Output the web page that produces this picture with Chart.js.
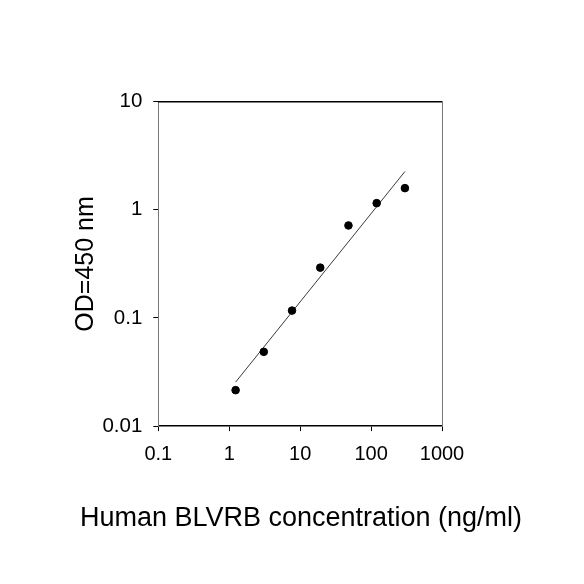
<!DOCTYPE html>
<html>
<head>
<meta charset="utf-8">
<script src="https://cdn.jsdelivr.net/npm/chart.js@4"></script>
<style>
  html, body { margin: 0; padding: 0; background: #ffffff; }
  #wrap { width: 584px; height: 584px; }
</style>
</head>
<body>
<div id="wrap"><canvas id="c" width="584" height="584"></canvas></div>
<script>
// Data
const concentrations = [1.23, 3.07, 7.68, 19.2, 48, 120, 300];
const odValues = [0.0215, 0.0486, 0.117, 0.292, 0.717, 1.153, 1.587];
const trendX = [1.23, 300];
const trendY = [0.0255, 2.26];
const xTickValues = [0.1, 1, 10, 100, 1000];
const yTickValues = [0.01, 0.1, 1, 10];
const xTitle = 'Human BLVRB concentration (ng/ml)';
const yTitle = 'OD=450 nm';

const FONT = "'Liberation Sans', Arial, sans-serif";

const pointData = concentrations.map((x, i) => ({ x: x, y: odValues[i] }));
const trendData = trendX.map((x, i) => ({ x: x, y: trendY[i] }));

function fixTicks(values) {
  return function (scale) {
    scale.ticks = values.map(v => ({ value: v }));
  };
}
function fmt(v) { return String(v); }

new Chart(document.getElementById('c'), {
  type: 'scatter',
  data: {
    datasets: [
      {
        label: 'fit',
        type: 'line',
        data: trendData,
        borderColor: '#3a3a3a',
        borderWidth: 1,
        pointRadius: 0,
        fill: false,
        tension: 0,
        order: 2
      },
      {
        label: 'OD',
        data: pointData,
        backgroundColor: '#000000',
        borderColor: '#000000',
        pointRadius: 3.8,
        pointHoverRadius: 3.8,
        order: 1
      }
    ]
  },
  options: {
    responsive: false,
    animation: false,
    events: [],
    layout: { padding: { left: 18, right: 0, top: 101.7, bottom: 0 } },
    plugins: {
      legend: { display: false },
      tooltip: { enabled: false },
      title: {
        display: true,
        position: 'bottom',
        text: xTitle,
        color: '#000000',
        font: { family: FONT, size: 27, weight: 'normal' },
        padding: { top: 0, bottom: 49 }
      }
    },
    scales: {
      x: {
        type: 'logarithmic',
        position: 'bottom',
        min: 0.1,
        max: 1000,
        afterBuildTicks: fixTicks(xTickValues),
        afterFit: function (s) { s.height = 76.5; },
        grid: { drawOnChartArea: false, drawTicks: true, tickLength: 5, color: '#000000', lineWidth: 1 },
        border: { display: true, color: '#000000', width: 1.5 },
        ticks: {
          callback: fmt,
          color: '#000000',
          font: { family: FONT, size: 20 },
          padding: 11,
          maxRotation: 0,
          autoSkip: false
        }
      },
      y: {
        type: 'logarithmic',
        position: 'left',
        min: 0.01,
        max: 10,
        afterBuildTicks: fixTicks(yTickValues),
        afterFit: function (s) { s.width = 140.3; },
        grid: { drawOnChartArea: false, drawTicks: true, tickLength: 5, color: '#000000', lineWidth: 1 },
        border: { display: true, color: '#777777', width: 1 },
        ticks: {
          callback: fmt,
          color: '#000000',
          font: { family: FONT, size: 20.5 },
          padding: 11,
          autoSkip: false
        },
        title: {
          display: true,
          text: yTitle,
          color: '#000000',
          font: { family: FONT, size: 25 },
          padding: { top: 53, bottom: 0 }
        }
      },
      xTop: {
        type: 'logarithmic',
        position: 'top',
        min: 0.1,
        max: 1000,
        afterFit: function (s) { s.height = 0; },
        grid: { drawOnChartArea: false, drawTicks: false },
        border: { display: true, color: '#000000', width: 1.5 },
        ticks: { display: false }
      },
      yRight: {
        type: 'logarithmic',
        position: 'right',
        min: 0.01,
        max: 10,
        afterFit: function (s) { s.width = 142; },
        grid: { drawOnChartArea: false, drawTicks: false },
        border: { display: true, color: '#777777', width: 1 },
        ticks: { display: false }
      }
    }
  }
});
</script>
</body>
</html>
